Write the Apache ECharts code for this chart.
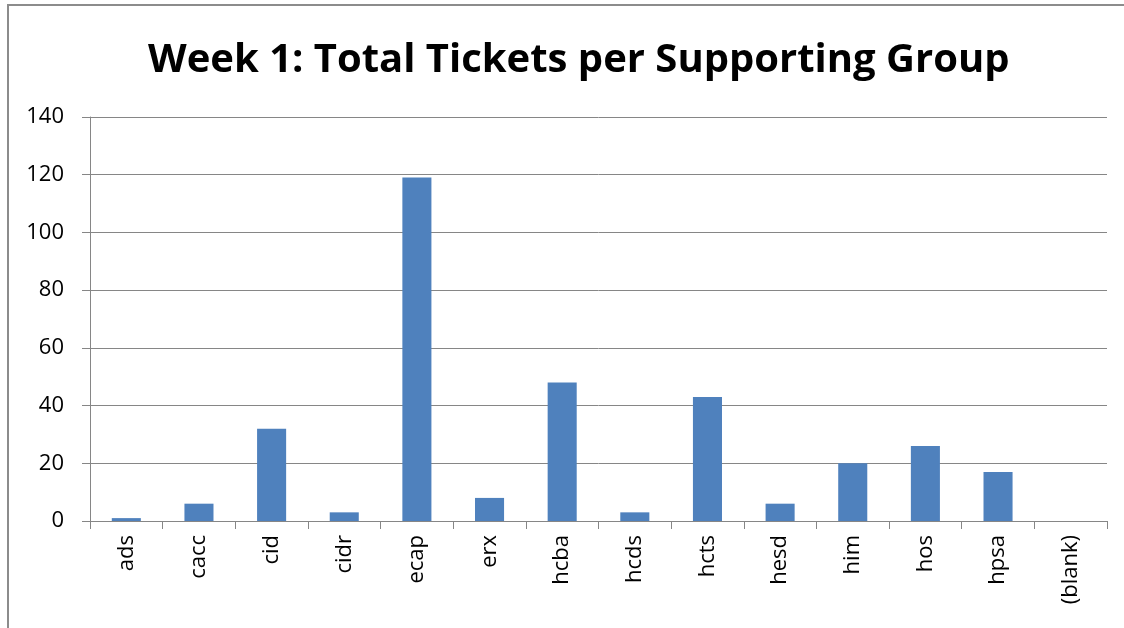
<!DOCTYPE html>
<html>
<head>
<meta charset="utf-8">
<script src="https://cdn.jsdelivr.net/npm/echarts@6/dist/echarts.min.js"></script>
<style>
  html, body { margin: 0; padding: 0; background: #fff; overflow: hidden; }
  #frame { position: absolute; left: 7px; top: 4px; width: 1140px; height: 640px; border: 2px solid #8c8c8c; box-sizing: border-box; }
  #chart { position: absolute; left: 0; top: 0; width: 1124px; height: 628px; }
</style>
</head>
<body>
<div id="frame"></div>
<div id="chart"></div>
<script>
const GROUPS = ['ads', 'cacc', 'cid', 'cidr', 'ecap', 'erx', 'hcba', 'hcds', 'hcts', 'hesd', 'him', 'hos', 'hpsa', '(blank)'];
const TICKETS = [1, 6, 32, 3, 119, 8, 48, 3, 43, 6, 20, 26, 17, 0];

const chart = echarts.init(document.getElementById('chart'), null, { renderer: 'canvas' });
const FONT = "'Open Sans', 'Liberation Sans', sans-serif";

chart.setOption({
  animation: false,
  title: {
    text: 'Week 1: Total Tickets per Supporting Group',
    left: 143,
    top: 36,
    textStyle: { fontFamily: FONT, fontSize: 40, fontWeight: 'bold', color: '#000' },
  },
  grid: { left: 90, right: 17, top: 117, bottom: 107 },
  xAxis: {
    type: 'category',
    data: GROUPS,
    axisLine: { lineStyle: { color: '#868686', width: 1 } },
    axisTick: { show: true, length: 8, alignWithLabel: false, lineStyle: { color: '#868686' } },
    axisLabel: { rotate: 90, margin: 14, fontFamily: FONT, fontSize: 22, color: '#000', interval: 0 },
  },
  yAxis: {
    type: 'value',
    min: 0,
    max: 140,
    interval: 20,
    axisLine: { show: true, lineStyle: { color: '#868686', width: 1 } },
    axisTick: { show: true, length: 8, lineStyle: { color: '#868686' } },
    splitLine: { lineStyle: { color: '#868686', width: 1 } },
    axisLabel: { margin: 26, fontFamily: FONT, fontSize: 22, color: '#000' },
  },
  series: [{
    type: 'bar',
    data: TICKETS,
    barWidth: '40%',
    itemStyle: { color: '#4f81bd' },
  }],
});
</script>
</body>
</html>
